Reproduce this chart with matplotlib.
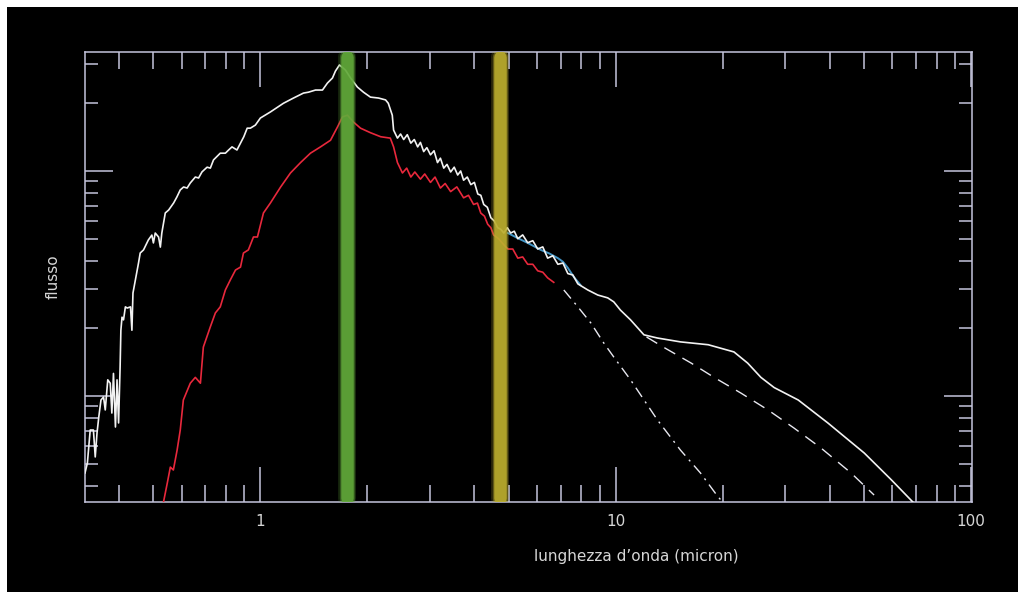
import matplotlib
matplotlib.use("Agg")
import matplotlib.pyplot as plt
from matplotlib.patches import Rectangle

# spettro totale (bianco)
white_x = [0.321, 0.326, 0.332, 0.339, 0.343, 0.347, 0.351, 0.356, 0.362, 0.366,
           0.372, 0.378, 0.382, 0.386, 0.391, 0.395, 0.399, 0.403, 0.405, 0.408,
           0.412, 0.417, 0.422, 0.431, 0.435, 0.438, 0.445, 0.454, 0.459, 0.469,
           0.484, 0.495, 0.500, 0.506, 0.517, 0.523, 0.528, 0.540, 0.552, 0.570,
           0.582, 0.595, 0.608, 0.622, 0.635, 0.656, 0.670, 0.685, 0.708, 0.723,
           0.738, 0.771, 0.797, 0.814, 0.832, 0.859, 0.879, 0.898, 0.918, 0.937,
           0.968, 1.0, 1.067, 1.161, 1.239, 1.322, 1.365, 1.429, 1.495, 1.544,
           1.595, 1.626, 1.669, 1.735, 1.794, 1.875, 1.950, 2.04, 2.15, 2.25,
           2.29, 2.35, 2.37, 2.43, 2.48, 2.53, 2.59, 2.65, 2.71, 2.77,
           2.82, 2.88, 2.94, 3.01, 3.08, 3.15, 3.21, 3.28, 3.35, 3.43,
           3.51, 3.59, 3.66, 3.73, 3.82, 3.91, 4.00, 4.09, 4.17, 4.25,
           4.35, 4.45, 4.55, 4.65, 4.75, 4.84, 4.95, 5.06, 5.18, 5.30,
           5.47, 5.65, 5.84, 6.03, 6.23, 6.43, 6.65, 6.87, 7.10, 7.33,
           7.57, 7.82, 8.34, 8.90, 9.49, 9.87, 10.3, 11.0, 12.0, 13.1,
           15.2, 18.2, 21.5, 23.5, 25.6, 27.9, 32.6, 39.5, 50.0, 59.6, 69.0]
white_y = [0.455, 0.504, 0.706, 0.706, 0.536, 0.685, 0.807, 0.960, 0.99, 0.867,
           1.18, 1.14, 0.84, 1.26, 0.728, 1.18, 0.759, 1.35, 1.96, 2.24,
           2.18, 2.49, 2.46, 2.49, 1.96, 2.87, 3.28, 3.90, 4.32, 4.46,
           4.94, 5.19, 4.79, 5.30, 5.09, 4.59, 5.30, 6.51, 6.71, 7.21,
           7.66, 8.24, 8.49, 8.40, 8.85, 9.40, 9.31, 9.91, 10.4, 10.3,
           11.2, 12.0, 12.0, 12.4, 12.8, 12.4, 13.3, 14.2, 15.5, 15.5,
           16.0, 17.2, 18.3, 20.0, 21.1, 22.2, 22.4, 22.9, 22.9, 24.6,
           25.9, 27.8, 29.6, 28.1, 25.9, 23.6, 22.4, 21.3, 21.1, 20.7,
           20.0, 17.7, 15.2, 14.0, 14.6, 13.8, 14.5, 13.3, 13.8, 12.8,
           13.4, 12.2, 12.7, 11.8, 12.3, 10.9, 11.4, 10.3, 10.7, 9.9,
           10.4, 9.6, 10.0, 9.1, 9.4, 8.7, 8.9, 7.9, 7.8, 7.1,
           6.9, 6.2, 6.0, 5.6, 5.5, 5.3, 5.6, 5.3, 5.4, 5.0,
           5.2, 4.8, 4.9, 4.5, 4.6, 4.1, 4.2, 3.85, 3.9, 3.5,
           3.45, 3.15, 2.96, 2.81, 2.73, 2.62, 2.41, 2.18, 1.87, 1.81,
           1.74, 1.69, 1.57, 1.40, 1.21, 1.09, 0.960, 0.759, 0.558, 0.424, 0.334]

# componente stellare (rosso)
red_x = [0.533, 0.547, 0.558, 0.569, 0.583, 0.595, 0.607, 0.635, 0.656, 0.678,
         0.691, 0.723, 0.747, 0.771, 0.797, 0.823, 0.851, 0.879, 0.896, 0.925,
         0.956, 0.981, 1.02, 1.067, 1.14, 1.215, 1.297, 1.383, 1.476, 1.575,
         1.648, 1.702, 1.758, 1.828, 1.913, 2.04, 2.18, 2.32, 2.37, 2.43,
         2.51, 2.58, 2.65, 2.72, 2.82, 2.90, 3.01, 3.10, 3.21, 3.31,
         3.43, 3.57, 3.73, 3.85, 3.98, 4.08, 4.17, 4.27, 4.36, 4.45,
         4.53, 4.68, 4.84, 4.97, 5.13, 5.30, 5.47, 5.65, 5.84, 6.03,
         6.23, 6.43, 6.69]
red_y = [0.334, 0.410, 0.483, 0.469, 0.575, 0.706, 0.960, 1.14, 1.21, 1.14,
         1.65, 2.03, 2.34, 2.49, 2.96, 3.28, 3.63, 3.74, 4.32, 4.46,
         5.09, 5.09, 6.51, 7.21, 8.49, 9.80, 10.9, 12.0, 12.8, 13.7,
         15.7, 17.4, 17.7, 16.5, 15.5, 14.8, 14.2, 14.0, 12.8, 10.9,
         9.8, 10.3, 9.4, 9.9, 9.2, 9.7, 8.9, 9.4, 8.4, 8.8,
         8.1, 8.5, 7.6, 7.8, 7.1, 7.2, 6.5, 6.3, 5.8, 5.6,
         5.2, 5.0, 4.7, 4.5, 4.5, 4.1, 4.15, 3.85, 3.85, 3.6,
         3.55, 3.35, 3.2]

# spettro osservato (azzurro)
blue_x = [4.97, 5.30, 5.65, 6.15, 6.50, 6.87, 7.10, 7.33, 7.62, 7.96]
blue_y = [5.30, 5.03, 4.79, 4.46, 4.30, 4.10, 3.95, 3.71, 3.38, 3.11]

# modelli (tratteggio e tratto-punto)
dash_x = [12.2, 13.6, 16.3, 18.9, 22.5, 26.8, 31.7, 37.8, 45.9, 53.3]
dash_y = [1.83, 1.65, 1.40, 1.21, 1.03, 0.867, 0.721, 0.587, 0.455, 0.363]

dashdot_x = [7.14, 7.82, 8.51, 9.25, 9.87, 11.0, 13.1, 15.2, 17.3, 19.4, 20.0]
dashdot_y = [2.96, 2.49, 2.11, 1.72, 1.49, 1.18, 0.782, 0.575, 0.455, 0.356, 0.338]

# bande dei filtri
band_x = [1.75, 4.71]
band_colors = ['#62aa3a', '#bcae2e']

axis_color = '#c4c4dc'
text_color = '#d6d6d6'

fig = plt.figure(figsize=(10.18, 5.92), dpi=100, facecolor='black')
# cornice bianca solo in alto e a sinistra
fig.patches.append(Rectangle((0, 1 - 7 / 592), 1, 7 / 592, transform=fig.transFigure,
                             facecolor='white', edgecolor='none', zorder=-10))
fig.patches.append(Rectangle((0, 0), 7 / 1018, 1, transform=fig.transFigure,
                             facecolor='white', edgecolor='none', zorder=-10))
ax = fig.add_axes([85 / 1018, 1 - 502 / 592, 887 / 1018, 450 / 592])
ax.set_zorder(1)
ax.set_facecolor('black')

ax.plot(blue_x, blue_y, color='#4aa6dc', lw=1.4, alpha=0.9, zorder=2)
ax.plot(white_x, white_y, color='#f2f2f2', lw=1.2, zorder=3)
ax.plot(red_x, red_y, color='#e8283c', lw=1.2, zorder=4)
ax.plot(dash_x, dash_y, color='#e8e8f0', lw=1.0, linestyle=(0, (9, 6)), zorder=3)
ax.plot(dashdot_x, dashdot_y, color='#e8e8f0', lw=1.0, linestyle=(0, (8, 4, 1.5, 4)), zorder=3)

# bande con alone
for bx, bc in zip(band_x, band_colors):
    for lw, a in [(13, 0.2), (11, 0.4), (9, 0.85)]:
        ax.axvline(bx, ymin=0.01, ymax=0.99, color=bc, lw=lw, alpha=a,
                   solid_capstyle='round', zorder=5)

ax.set_xscale('log')
ax.set_yscale('log')
ax.set_xlim(0.321, 100.5)
ax.set_ylim(0.338, 33.8)

ax.set_xticks([1, 10, 100])
ax.set_xticklabels(['1', '10', '100'])
ax.set_yticks([1, 10])
ax.set_yticklabels([])
ax.yaxis.set_minor_formatter(plt.NullFormatter())
ax.xaxis.set_minor_formatter(plt.NullFormatter())

ax.tick_params(axis='x', which='major', direction='in', length=25, width=1.1,
               color=axis_color, top=True, bottom=True, labelsize=11,
               labelcolor=text_color, pad=9)
ax.tick_params(axis='x', which='minor', direction='in', length=12, width=1.1,
               color=axis_color, top=True, bottom=True)
ax.tick_params(axis='y', which='major', direction='in', length=20, width=1.1,
               color=axis_color, left=True, right=True)
ax.tick_params(axis='y', which='minor', direction='in', length=9.5, width=1.1,
               color=axis_color, left=True, right=True)
for s in ax.spines.values():
    s.set_color(axis_color)
    s.set_linewidth(1.1)

ax.set_xlabel('lunghezza d\u2019onda (micron)', color=text_color, fontsize=11,
              labelpad=14, x=0.621)
ax.set_ylabel('flusso', color=text_color, fontsize=11, labelpad=14)

plt.savefig('out.png', dpi=100, facecolor=fig.get_facecolor())
plt.close()
